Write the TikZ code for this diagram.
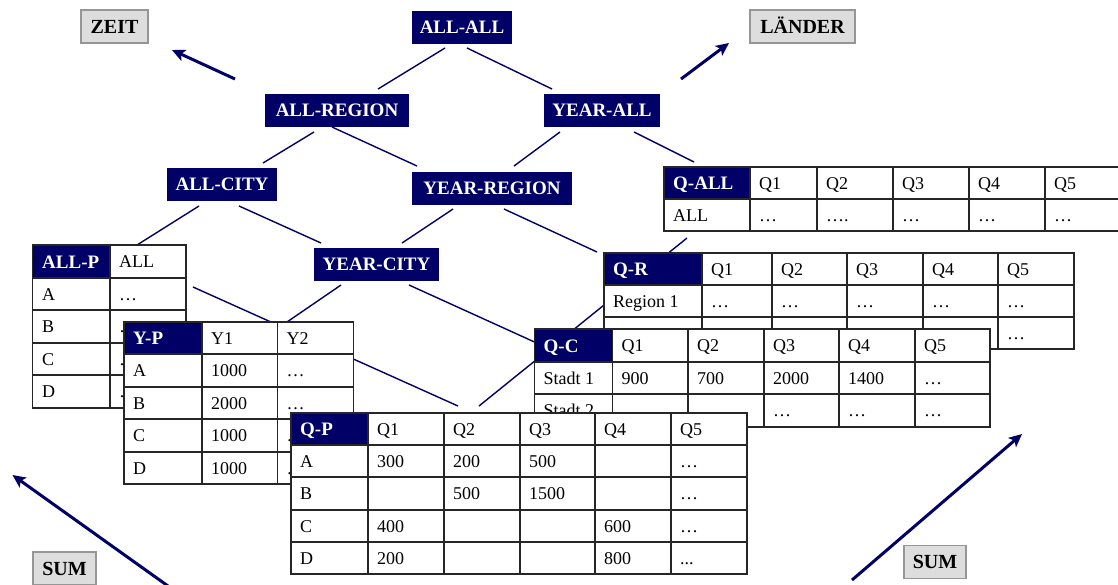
\documentclass[tikz,border=0pt]{standalone}
\usepackage{fontspec}
\setmainfont{Liberation Serif}
\usetikzlibrary{arrows.meta}

\definecolor{navy}{RGB}{0,0,102}
\definecolor{boxgrey}{RGB}{221,221,221}
\definecolor{boxedge}{RGB}{150,150,150}

\pgfdeclarelayer{links}
\pgfsetlayers{links,main}

\newcommand\lblfont{\fontsize{19}{21}\selectfont\bfseries}
\newcommand\tagfont{\fontsize{20}{22}\selectfont\bfseries}
\newcommand\cellfont{\fontsize{18}{20}\selectfont}

\tikzset{
  cuboid/.style={fill=navy, text=white, font=\lblfont, inner sep=0pt, outer sep=0pt,
    minimum height=33pt, text height=12.8pt, text depth=0pt},
  dimtag/.style={fill=boxgrey, draw=boxedge, line width=1.5pt, font=\tagfont, inner sep=0pt,
    minimum height=33pt, text height=13.5pt, text depth=0pt},
  link/.style={draw=navy, line width=1.4pt},
  bigarrow/.style={draw=navy, line width=3pt, -{Stealth[length=13pt,width=12pt,inset=3pt]}},
  tabbg/.style={fill=white, inner sep=0pt, outer sep=0pt},
  gridln/.style={draw=black!85, line width=1.4pt},
  celltext/.style={anchor=base west, inner sep=0pt, font=\cellfont},
  headtext/.style={anchor=base west, inner sep=0pt, font=\lblfont, text=white},
}

% table frame: name, left, top, right, bottom, inner columns, inner rows, header right, header bottom
\newcommand\gridtable[9]{%
  \node[tabbg, anchor=north west, minimum width={(#4)-(#2)}, minimum height={(#5)-(#3)}] (#1) at (#2,#3) {};
  \fill[navy] (#2,#3) rectangle (#8,#9);
  \foreach \gx in {#6} {\draw[gridln] (\gx,#3) -- (\gx,#5);}
  \foreach \gy in {#7} {\draw[gridln] (#2,\gy) -- (#4,\gy);}
  \draw[gridln] (#2,#3) rectangle (#4,#5);
}
% one row of cell entries: baseline, list of x/text
\newcommand\cellrow[2]{\foreach \cx/\ct in {#2} {\node[celltext] at (\cx,#1) {\ct};}}

\begin{document}
\begin{tikzpicture}[x=1pt,y=-1pt]
\useasboundingbox (0,0) rectangle (1118,584);

% aggregation lattice
\node[cuboid, minimum width=100pt] (allall) at (462,27) {ALL-ALL};
\node[cuboid, minimum width=144pt] (allreg) at (337,110.5) {ALL-REGION};
\node[cuboid, minimum width=116pt] (yearall) at (602,110.5) {YEAR-ALL};
\node[cuboid, minimum width=110pt] (allcity) at (222,184.5) {ALL-CITY};
\node[cuboid, minimum width=160pt] (yearreg) at (492,188) {YEAR-REGION};
\node[cuboid, minimum width=125pt] (yearcity) at (376.5,264.5) {YEAR-CITY};

% dimension tags
\node[dimtag, minimum width=67pt] (zeit) at (114.5,26.5) {ZEIT};
\node[dimtag, minimum width=105pt] (laender) at (802.5,26.5) {LÄNDER};
\node[dimtag, minimum width=63pt] (sumleft) at (64.5,568.5) {SUM};
\node[dimtag, minimum width=62pt] (sumright) at (935,562) {SUM};

\coordinate (zeitfrom) at (235,79);
\coordinate (laenderfrom) at (681,79);
\coordinate (sumleftfrom) at (168,586);
\coordinate (sumrightfrom) at (852,580);
\draw[bigarrow] (zeitfrom) -- ([shift={(57.5,23.5)}]zeit.center);
\draw[bigarrow] (laenderfrom) -- ([shift={(-73.5,16.5)}]laender.center);
\draw[bigarrow] (sumleftfrom) -- ([shift={(-52,-93.5)}]sumleft.center);
\draw[bigarrow] (sumrightfrom) -- ([shift={(87,-128)}]sumright.center);

% Q-ALL
\gridtable{qall}{664}{167}{1121}{231}{750,817,893,969,1045}{199}{750}{199}
\node[headtext] at (673,189.5) {Q-ALL};
\cellrow{189}{759/Q1,826/Q2,902/Q3,978/Q4,1054/Q5}
\cellrow{221}{673/ALL,759/…,826/….,902/…,978/…,1054/…}

% Q-R
\gridtable{qr}{604}{253}{1074}{349}{702,772,847,923,998}{285,317}{702}{285}
\node[headtext] at (613,275.5) {Q-R};
\cellrow{275}{711/Q1,781/Q2,856/Q3,932/Q4,1007/Q5}
\cellrow{307}{613/Region 1,711/…,781/…,856/…,932/…,1007/…}
\cellrow{339}{1007/…}

% Q-C
\gridtable{qc}{534.5}{329}{990}{427}{612.5,688,764,839,915}{362,394}{612.5}{362}
\node[headtext] at (543.5,352) {Q-C};
\cellrow{351.5}{621.5/Q1,697/Q2,773/Q3,848/Q4,924/Q5}
\cellrow{384}{543.5/Stadt 1,621.5/900,697/700,773/2000,848/1400,924/…}
\cellrow{416.5}{543.5/Stadt 2,773/…,848/…,924/…}

% ALL-P
\gridtable{allp}{32.5}{245}{186}{408}{110}{278,310,343,375}{110}{278}
\node[headtext] at (42,268) {ALL-P};
\cellrow{267.5}{119/ALL}
\cellrow{300}{42/A,119/…}
\cellrow{332.5}{42/B,119/…}
\cellrow{365}{42/C,119/…}
\cellrow{397.5}{42/D,119/…}

% Y-P
\gridtable{yp}{124}{322}{353.5}{484}{202,277.5}{354,387,419,452}{202}{354}
\node[headtext] at (133,344.5) {Y-P};
\cellrow{344}{211/Y1,286.5/Y2}
\cellrow{376.5}{133/A,211/1000,286.5/…}
\cellrow{409}{133/B,211/2000,286.5/…}
\cellrow{441.5}{133/C,211/1000,286.5/…}
\cellrow{474}{133/D,211/1000,286.5/…}

% Q-P
\gridtable{qp}{291}{413}{747}{574}{368,444,520,595,671}{445,477,510,542}{368}{445}
\node[headtext] at (300,435.5) {Q-P};
\cellrow{435}{377/Q1,453/Q2,529/Q3,604/Q4,680/Q5}
\cellrow{467}{300/A,377/300,453/200,529/500,680/…}
\cellrow{499.5}{300/B,453/500,529/1500,680/…}
\cellrow{532}{300/C,377/400,604/600,680/…}
\cellrow{564}{300/D,377/200,604/800}
\node[celltext] at (680,564) {...};

% roll-up connectors, drawn beneath the tables
\begin{pgfonlayer}{links}
\draw[link] ([shift={(-17,21)}]allall.center) -- ([shift={(41,-21.5)}]allreg.center);
\draw[link] ([shift={(5,21)}]allall.center) -- ([shift={(-50,-21.5)}]yearall.center);
\draw[link] ([shift={(-23,21.5)}]allreg.center) -- ([shift={(41,-21.5)}]allcity.center);
\draw[link] ([shift={(-5,16.5)}]allreg.center) -- ([shift={(-75,-22)}]yearreg.center);
\draw[link] ([shift={(-42,21.5)}]yearall.center) -- ([shift={(22,-22)}]yearreg.center);
\draw[link] ([shift={(32,21.5)}]yearall.center) -- ([shift={(30,-5)}]qall.north west);
\draw[link] ([shift={(-23,21.5)}]allcity.center) -- ([shift={(104.5,0)}]allp.north west);
\draw[link] ([shift={(17,21.5)}]allcity.center) -- ([shift={(-55.5,-21.5)}]yearcity.center);
\draw[link] ([shift={(-39,21)}]yearreg.center) -- ([shift={(25.5,-21.5)}]yearcity.center);
\draw[link] ([shift={(12,21)}]yearreg.center) -- ([shift={(-7,-1)}]qr.north west);
\draw[link] ([shift={(23,71)}]qall.north west) -- ([shift={(188,-7)}]qp.north west);
\draw[link] ([shift={(160.5,42)}]allp.north west) -- ([shift={(167,-7)}]qp.north west);
\draw[link] ([shift={(-35.5,20.5)}]yearcity.center) -- ([shift={(163,0)}]yp.north west);
\draw[link] ([shift={(32.5,20.5)}]yearcity.center) -- ([shift={(0,13)}]qc.north west);
\end{pgfonlayer}
\end{tikzpicture}
\end{document}
